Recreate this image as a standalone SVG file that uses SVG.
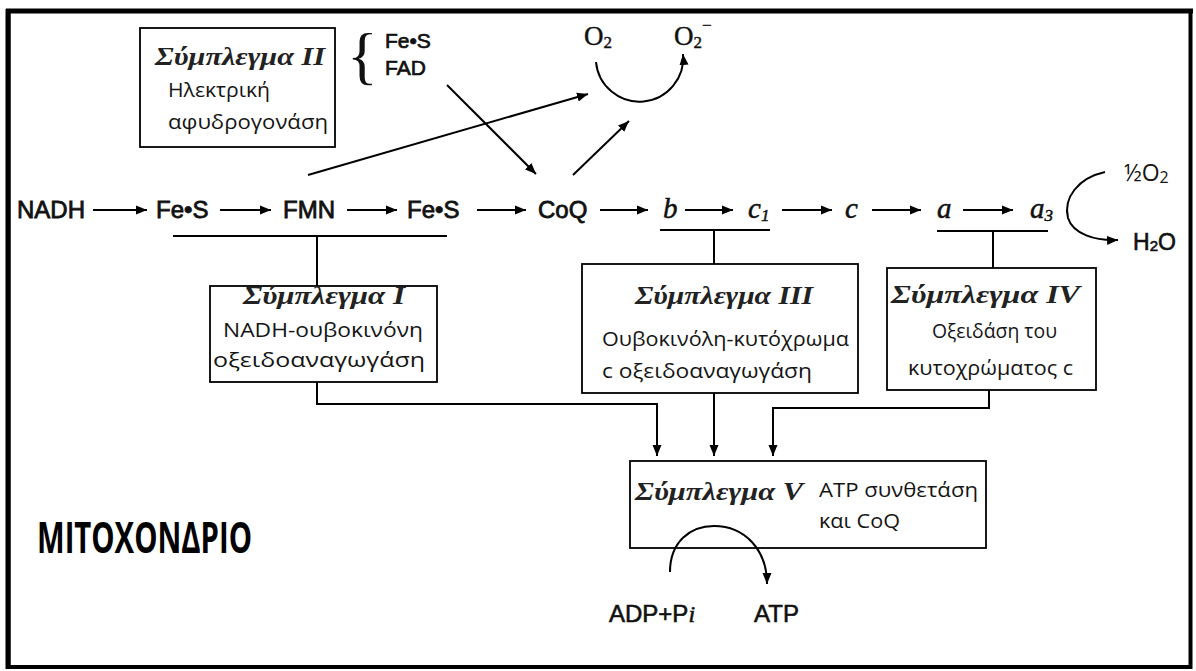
<svg xmlns="http://www.w3.org/2000/svg" width="1196" height="671" viewBox="0 0 1196 671">
<defs>
<marker id="ah" markerUnits="userSpaceOnUse" markerWidth="12" markerHeight="10" refX="11" refY="5" orient="auto">
<path d="M0,0.5 L11,5 L0,9.5 z" fill="#000"/>
</marker>
<style>
.ln{stroke:#000;stroke-width:2;fill:none}
.ar{stroke:#000;stroke-width:2;fill:none;marker-end:url(#ah)}
.box{fill:none;stroke:#000;stroke-width:1.8}
.ch{font-family:"Liberation Sans",Arial,sans-serif;font-size:24px;fill:#111;stroke:#111;stroke-width:0.8}
.sn{font-family:"Liberation Sans",Arial,sans-serif;font-size:24px;fill:#111;stroke:#111;stroke-width:0.6}
.it{font-family:"Liberation Serif","Times New Roman",serif;font-size:29px;font-style:italic;fill:#111;stroke:#111;stroke-width:0.5}
.ti{font-family:"Liberation Serif","Times New Roman",serif;font-size:25px;font-style:italic;font-weight:bold;fill:#222}
.cb{font-family:"Open Sans","Noto Sans",sans-serif;font-size:20px;fill:#151515}
.sm{font-family:"Liberation Sans",Arial,sans-serif;font-size:21px;fill:#111;stroke:#111;stroke-width:0.7}
.ox{font-family:"Liberation Serif","Times New Roman",serif;font-size:27px;fill:#111;stroke:#111;stroke-width:0.4}
</style>
</defs>
<rect x="0" y="0" width="1196" height="671" fill="#fff"/>
<rect x="8.5" y="11" width="1182" height="656" fill="none" stroke="#000" stroke-width="4"/>
<line x1="8" y1="9" x2="8" y2="669" stroke="#000" stroke-width="5"/>
<line x1="6" y1="11" x2="1193" y2="11" stroke="#000" stroke-width="5"/>

<g id="chain">
<text class="ch" x="17" y="218">NADH</text>
<text class="ch" x="156" y="218">Fe•S</text>
<text class="ch" x="283" y="218">FMN</text>
<text class="ch" x="407" y="218">Fe•S</text>
<text class="ch" x="538" y="218">CoQ</text>
<text class="it" x="663" y="218">b</text>
<text class="it" x="748" y="218">c<tspan style="font-size:17px" dy="3">1</tspan></text>
<text class="it" x="845" y="218">c</text>
<text class="it" x="937" y="218">a</text>
<text class="it" x="1030" y="218">a<tspan style="font-size:17px" dy="3">3</tspan></text>
</g>

<g id="oxygen">
<text class="ox" x="584" y="45">O<tspan style="font-size:17px" dy="3">2</tspan></text>
<text class="ox" x="674" y="45">O<tspan style="font-size:17px" dy="3">2</tspan><tspan style="font-size:17px" dy="-17">−</tspan></text>
</g>

<g id="water">
<text class="cb" x="1124" y="181" style="font-size:23px">½O<tspan style="font-size:16px" dy="2">2</tspan></text>
<text class="sn" x="1133" y="250" style="font-size:23px">H<tspan style="font-size:15px" dy="1">2</tspan><tspan dy="-1">O</tspan></text>
</g>

<g id="complex2">
<rect class="box" x="140" y="28" width="195" height="119"/>
<text class="ti" x="155" y="65" textLength="170" lengthAdjust="spacingAndGlyphs">Σύμπλεγμα II</text>
<text class="cb" x="168" y="97" textLength="102" lengthAdjust="spacingAndGlyphs">Ηλεκτρική</text>
<text class="cb" x="168" y="129" textLength="160" lengthAdjust="spacingAndGlyphs">αφυδρογονάση</text>
</g>

<g id="cofactors2">
<text x="347" y="77" font-family="Liberation Serif,serif" font-size="64" fill="#111">{</text>
<text class="sm" x="385" y="48">Fe•S</text>
<text class="sm" x="385" y="75">FAD</text>
</g>

<g id="complex1">
<rect class="box" x="210" y="286" width="227" height="96"/>
<text class="ti" x="243" y="304" textLength="162" lengthAdjust="spacingAndGlyphs">Σύμπλεγμα I</text>
<text class="cb" x="223" y="337" textLength="200" lengthAdjust="spacingAndGlyphs">NADH-ουβοκινόνη</text>
<text class="cb" x="213" y="367" textLength="212" lengthAdjust="spacingAndGlyphs">οξειδοαναγωγάση</text>
</g>

<g id="complex3">
<rect class="box" x="582" y="264" width="276" height="129"/>
<text class="ti" x="635" y="304" textLength="178" lengthAdjust="spacingAndGlyphs">Σύμπλεγμα III</text>
<text class="cb" x="602" y="346" textLength="247" lengthAdjust="spacingAndGlyphs">Ουβοκινόλη-κυτόχρωμα</text>
<text class="cb" x="602" y="378" textLength="210" lengthAdjust="spacingAndGlyphs">c  οξειδοαναγωγάση</text>
</g>

<g id="complex4">
<rect class="box" x="887" y="268" width="209" height="122"/>
<text class="ti" x="891" y="303" textLength="189" lengthAdjust="spacingAndGlyphs">Σύμπλεγμα IV</text>
<text class="cb" x="932" y="338" textLength="125" lengthAdjust="spacingAndGlyphs">Οξειδάση του</text>
<text class="cb" x="908" y="375" textLength="165" lengthAdjust="spacingAndGlyphs">κυτοχρώματος c</text>
</g>

<g id="complex5">
<rect class="box" x="630" y="461" width="356" height="87"/>
<text class="ti" x="635" y="500" textLength="168" lengthAdjust="spacingAndGlyphs">Σύμπλεγμα V</text>
<text class="cb" x="819" y="497" textLength="159" lengthAdjust="spacingAndGlyphs">ATP συνθετάση</text>
<text class="cb" x="819" y="528" textLength="81" lengthAdjust="spacingAndGlyphs">και CoQ</text>
</g>

<g id="atp">
<text class="sn" x="609" y="622">ADP+P<tspan style="font-family:'Liberation Serif',serif;font-style:italic">i</tspan></text>
<text class="sn" x="754" y="622">ATP</text>
</g>

<g id="label">
<text x="37" y="553" font-family="Open Sans,Noto Sans,sans-serif" font-size="43" font-weight="bold" fill="#000" textLength="215" lengthAdjust="spacingAndGlyphs">ΜΙΤΟΧΟΝΔΡΙΟ</text>
</g>

<g id="connectors">
<line class="ar" x1="93" y1="210" x2="147" y2="210"/>
<line class="ar" x1="220" y1="210" x2="271" y2="210"/>
<line class="ar" x1="347" y1="210" x2="397" y2="210"/>
<line class="ar" x1="477" y1="210" x2="526" y2="210"/>
<line class="ar" x1="600" y1="210" x2="648" y2="210"/>
<line class="ar" x1="685" y1="210" x2="733" y2="210"/>
<line class="ar" x1="782" y1="210" x2="832" y2="210"/>
<line class="ar" x1="872" y1="210" x2="921" y2="210"/>
<line class="ar" x1="963" y1="210" x2="1013" y2="210"/>
<line class="ar" x1="308" y1="175" x2="588" y2="94"/>
<line class="ar" x1="447" y1="85" x2="536" y2="174"/>
<line class="ar" x1="573" y1="175" x2="629" y2="121"/>
<path class="ar" d="M596,62 A43,43 0 0 0 683,54"/>
<path class="ar" d="M1105,172 C1078,178 1063,198 1068,218 C1073,234 1095,241 1118,240"/>
<line class="ln" x1="173" y1="236" x2="447" y2="236"/>
<line class="ln" x1="317" y1="236" x2="317" y2="286"/>
<line class="ln" x1="660" y1="230" x2="770" y2="230"/>
<line class="ln" x1="714" y1="230" x2="714" y2="264"/>
<line class="ln" x1="937" y1="231" x2="1048" y2="231"/>
<line class="ln" x1="993" y1="231" x2="993" y2="268"/>
<path class="ar" d="M317,382 V404 H657 V456"/>
<line class="ar" x1="714" y1="393" x2="714" y2="456"/>
<path class="ar" d="M989,390 V408 H773 V456"/>
<path class="ar" d="M670,572 C670,542 690,526 714,526 C745,526 767,550 767,584"/>
</g>
</svg>
